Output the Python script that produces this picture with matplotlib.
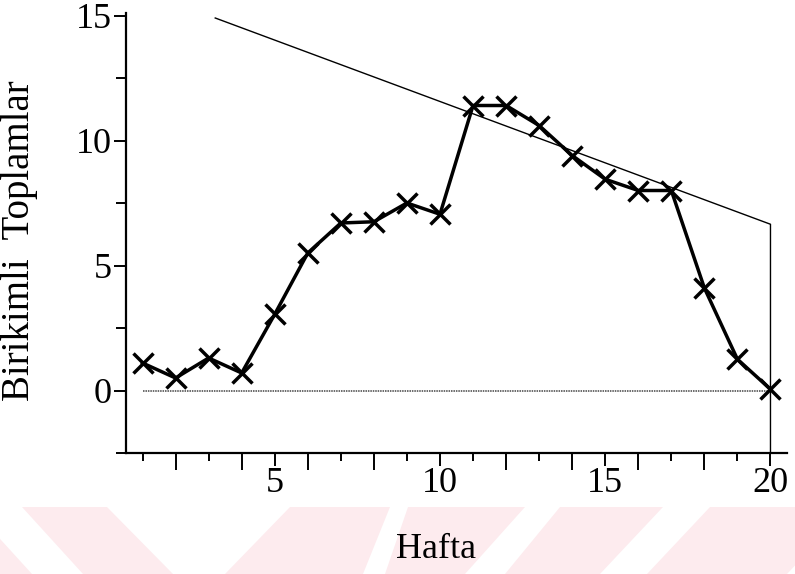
import matplotlib.pyplot as plt
from matplotlib.patches import Polygon, Rectangle

# weekly cumulative sums
hafta = list(range(1, 21))
toplam = [1.1, 0.5, 1.3, 0.7, 3.05, 5.5, 6.7, 6.75, 7.5, 7.05,
          11.4, 11.4, 10.6, 9.4, 8.45, 8.0, 8.0, 4.1, 1.25, 0.05]

# V-mask arm and its closing vertical at the last week
mask_x = [3.2, 20, 20]
mask_y = [14.9, 6.65, -2.5]

W, H = 795, 574
fig = plt.figure(figsize=(W / 100, H / 100), dpi=100)

# faint pink stripes along the bottom of the page
def px(pts):
    return [(x / W, 1 - y / H) for x, y in pts]

fig.patches.append(Rectangle((0, 0), 1, 1 - 507 / H, transform=fig.transFigure,
                             facecolor='#fdebee', edgecolor='none', zorder=-5))
gaps = [
    [(-29, 507), (22, 507), (83, 574), (32, 574)],
    [(107, 507), (290, 507), (225, 574), (173, 574)],
    [(390, 507), (408, 507), (385, 574), (363, 574)],
    [(525, 507), (560, 507), (505, 574), (465, 574)],
    [(663, 507), (710, 507), (647, 574), (600, 574)],
    [(850, 507), (900, 507), (840, 574), (787, 574)],
]
for g in gaps:
    fig.patches.append(Polygon(px(g), closed=True, transform=fig.transFigure,
                               facecolor='white', edgecolor='none', zorder=-4))

ax = fig.add_axes([126 / W, 1 - 453 / H, 661 / W, 440 / H])
ax.set_facecolor('none')
ax.set_xlim(0.5, 20.5)
ax.set_ylim(-2.5, 15.1)

for s in ['top', 'right']:
    ax.spines[s].set_visible(False)
for s in ['left', 'bottom']:
    ax.spines[s].set_linewidth(1.6)

serif = 'Liberation Serif'

ax.set_yticks([0, 5, 10, 15])
ax.set_yticks([-2.5, 2.5, 7.5, 12.5], minor=True)
ax.set_yticklabels(['0', '5', '10', '15'], fontfamily=serif, fontsize=26)
ax.set_xticks([5, 10, 15, 20])
ax.set_xticks([h for h in hafta if h % 5 != 0], minor=True)
ax.set_xticklabels(['5', '10', '15', '20'], fontfamily=serif, fontsize=26)

ax.tick_params(axis='y', which='major', length=9, width=1.4, pad=1)
ax.tick_params(axis='y', which='minor', length=7, width=1.4)
ax.tick_params(axis='x', which='major', length=9, width=1.4, pad=1)
ax.tick_params(axis='x', which='minor', length=7, width=1.4)

# even weeks get the longer tick marks
minor_locs = [h for h in hafta if h % 5 != 0]
for loc, t in zip(minor_locs, ax.xaxis.get_minor_ticks(len(minor_locs))):
    t.tick1line.set_markersize(12 if loc % 2 == 0 else 6)

ax.plot([1, 20], [0, 0], color='#444444', lw=1.1, ls=(0, (1, 0.6)))
ax.plot(mask_x, mask_y, color='black', lw=1.0)
ax.plot(hafta, toplam, color='black', lw=2.5, marker='x', markersize=15,
        markeredgewidth=2.5, clip_on=False)

fig.text(20 / W, 1 - 241 / H, 'Birikimli  Toplamlar', rotation=90,
         ha='center', va='center', fontfamily=serif, fontsize=28)
fig.text(436 / W, 1 - 549 / H, 'Hafta', ha='center', va='center',
         fontfamily=serif, fontsize=26)

fig.savefig('out.png', dpi=100)
